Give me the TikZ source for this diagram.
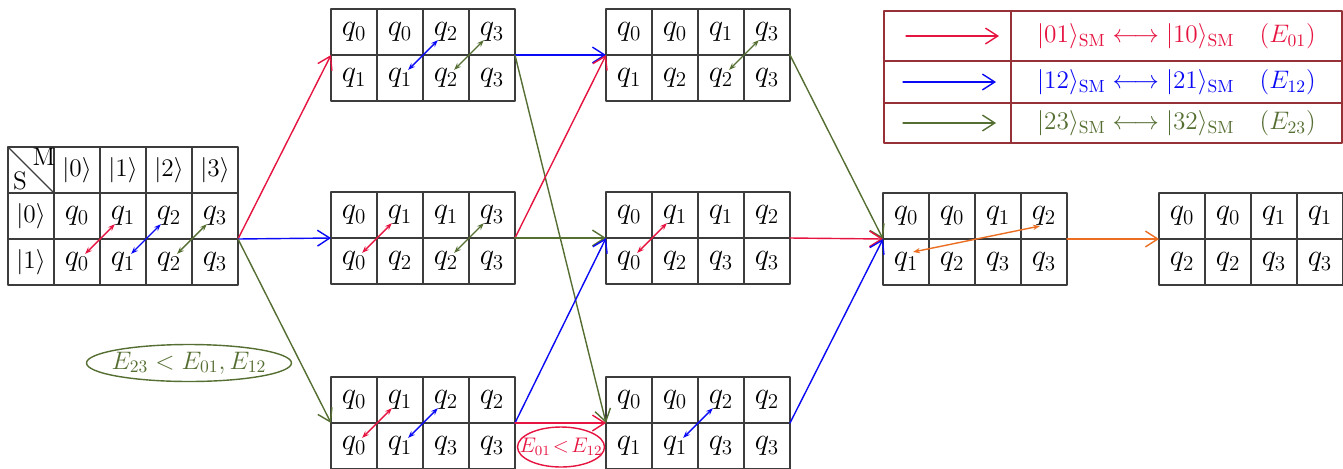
\documentclass[tikz,border=0pt]{standalone}
\usetikzlibrary{matrix,arrows.meta}
\definecolor{redc}{RGB}{230,20,65}
\definecolor{bluec}{RGB}{10,10,245}
\definecolor{greenc}{RGB}{85,110,50}
\definecolor{orangec}{RGB}{235,110,35}
\definecolor{legc}{RGB}{150,50,55}
\definecolor{gridc}{RGB}{60,60,60}
\begin{document}
\begin{tikzpicture}[x=0.02cm,y=-0.02cm,line join=round,line cap=round,thick]
\tikzset{qgrid/.style={matrix of math nodes,inner sep=0pt,outer sep=0pt,column sep=-0.8pt,row sep=-0.8pt,
    nodes={draw=gridc,minimum width=0.92cm,minimum height=0.92cm,inner sep=0pt,anchor=center,font=\LARGE}},
  conn/.style={-{Straight Barb[length=7pt,width=9pt]}},
  xchg/.style={{Stealth[length=4pt]}-{Stealth[length=4pt]},shorten <=0.23cm,shorten >=0.23cm}}
\useasboundingbox (0,0) rectangle (1343,468);
% start table
\matrix (L) [qgrid,row 1/.style={nodes={font=\Large}},column 1/.style={nodes={font=\Large}}] at (123,216) {
  \strut & \vert0\rangle & \vert1\rangle & \vert2\rangle & \vert3\rangle \\
  \vert0\rangle & q_0 & q_1 & q_2 & q_3 \\
  \vert1\rangle & q_0 & q_1 & q_2 & q_3 \\
};
\draw[gridc] (L-1-1.north west) -- (L-1-1.south east);
\node[font=\Large] (labM) at ([shift={(-10,10)}]L-1-1.north east) {M};
\node[font=\Large] (labS) at ([shift={(12,-12)}]L-1-1.south west) {S};
% first step
\matrix (A) [qgrid] at (423,55) {
  q_0 & q_0 & q_2 & q_3 \\
  q_1 & q_1 & q_2 & q_3 \\
};
\matrix (B) [qgrid] at (423,238) {
  q_0 & q_1 & q_1 & q_3 \\
  q_0 & q_2 & q_2 & q_3 \\
};
\matrix (C) [qgrid] at (423,423) {
  q_0 & q_1 & q_2 & q_2 \\
  q_0 & q_1 & q_3 & q_3 \\
};
% second step
\matrix (D) [qgrid] at (698,55) {
  q_0 & q_0 & q_1 & q_3 \\
  q_1 & q_2 & q_2 & q_3 \\
};
\matrix (E) [qgrid] at (698,238) {
  q_0 & q_1 & q_1 & q_2 \\
  q_0 & q_2 & q_3 & q_3 \\
};
\matrix (F) [qgrid] at (698,423) {
  q_0 & q_0 & q_2 & q_2 \\
  q_1 & q_1 & q_3 & q_3 \\
};
% last steps
\matrix (G) [qgrid] at (975,239) {
  q_0 & q_0 & q_1 & q_2 \\
  q_1 & q_2 & q_3 & q_3 \\
};
\matrix (H) [qgrid] at (1251,239) {
  q_0 & q_0 & q_1 & q_1 \\
  q_2 & q_2 & q_3 & q_3 \\
};
% swaps inside the tables
\draw[redc,xchg] (L-3-2.center) -- (L-2-3.center);
\draw[bluec,xchg] (L-3-3.center) -- (L-2-4.center);
\draw[greenc,xchg] (L-3-4.center) -- (L-2-5.center);
\draw[bluec,xchg] (A-2-2.center) -- (A-1-3.center);
\draw[greenc,xchg] (A-2-3.center) -- (A-1-4.center);
\draw[redc,xchg] (B-2-1.center) -- (B-1-2.center);
\draw[greenc,xchg] (B-2-3.center) -- (B-1-4.center);
\draw[redc,xchg] (C-2-1.center) -- (C-1-2.center);
\draw[bluec,xchg] (C-2-2.center) -- (C-1-3.center);
\draw[greenc,xchg] (D-2-3.center) -- (D-1-4.center);
\draw[redc,xchg] (E-2-1.center) -- (E-1-2.center);
\draw[bluec,xchg] (F-2-2.center) -- (F-1-3.center);
\draw[orangec,{Stealth[length=4pt]}-{Stealth[length=4pt]}] ([shift={(7,-10)}]G-2-1.center) -- ([shift={(-4,10)}]G-1-4.center);
% transitions
\draw[redc,conn] (L-2-5.south east) -- (A-1-1.south west);
\draw[bluec,conn] (L-2-5.south east) -- (B-1-1.south west);
\draw[greenc,conn] (L-2-5.south east) -- (C-1-1.south west);
\draw[bluec,conn] (A-1-4.south east) -- (D-1-1.south west);
\draw[greenc,conn] (A-1-4.south east) -- (F-1-1.south west);
\draw[redc,conn] (B-1-4.south east) -- (D-1-1.south west);
\draw[greenc,conn] (B-1-4.south east) -- (E-1-1.south west);
\draw[bluec,conn] (C-1-4.south east) -- (E-1-1.south west);
\draw[redc,conn] (C-1-4.south east) -- (F-1-1.south west);
\draw[greenc,conn] (D-1-4.south east) -- (G-1-1.south west);
\draw[redc,conn] (E-1-4.south east) -- (G-1-1.south west);
\draw[bluec,conn] (F-1-4.south east) -- (G-1-1.south west);
\draw[orangec,conn] (G-1-4.south east) -- (H-1-1.south west);
% conditions
\node[text=greenc,font=\Large] (cond23) at (189,363) {$E_{23} < E_{01}, E_{12}$};
\draw[greenc] (cond23.center) ellipse [x radius=2.05cm,y radius=0.37cm];
\node[text=redc,font=\large] (cond01) at (561,447) {$E_{01}\!<\!E_{12}$};
\draw[redc] (cond01.center) ellipse [x radius=0.87cm,y radius=0.4cm];
% legend
\matrix (leg) [matrix of nodes,inner sep=0pt,outer sep=0pt,column sep=-0.8pt,row sep=-0.8pt,
  nodes={draw=legc,inner sep=0pt,anchor=center,font=\Large},
  column 1/.style={nodes={minimum width=2.54cm}},
  column 2/.style={nodes={minimum width=6.62cm}},
  row 1/.style={nodes={minimum height=1cm,text=redc}},
  row 2/.style={nodes={minimum height=0.84cm,text=bluec}},
  row 3/.style={nodes={minimum height=0.8cm,text=greenc}}] at (1113,77) {
  \strut & $\vert01\rangle_{\mathrm{SM}}\longleftrightarrow\vert10\rangle_{\mathrm{SM}}$\quad$(E_{01})$ \\
  \strut & $\vert12\rangle_{\mathrm{SM}}\longleftrightarrow\vert21\rangle_{\mathrm{SM}}$\quad$(E_{12})$ \\
  \strut & $\vert23\rangle_{\mathrm{SM}}\longleftrightarrow\vert32\rangle_{\mathrm{SM}}$\quad$(E_{23})$ \\
};
\draw[redc,conn] ([xshift=0.44cm]leg-1-1.west) -- ([xshift=-0.24cm]leg-1-1.east);
\draw[bluec,conn] ([xshift=0.38cm]leg-2-1.west) -- ([xshift=-0.3cm]leg-2-1.east);
\draw[greenc,conn] ([xshift=0.38cm]leg-3-1.west) -- ([xshift=-0.3cm]leg-3-1.east);
\end{tikzpicture}
\end{document}
